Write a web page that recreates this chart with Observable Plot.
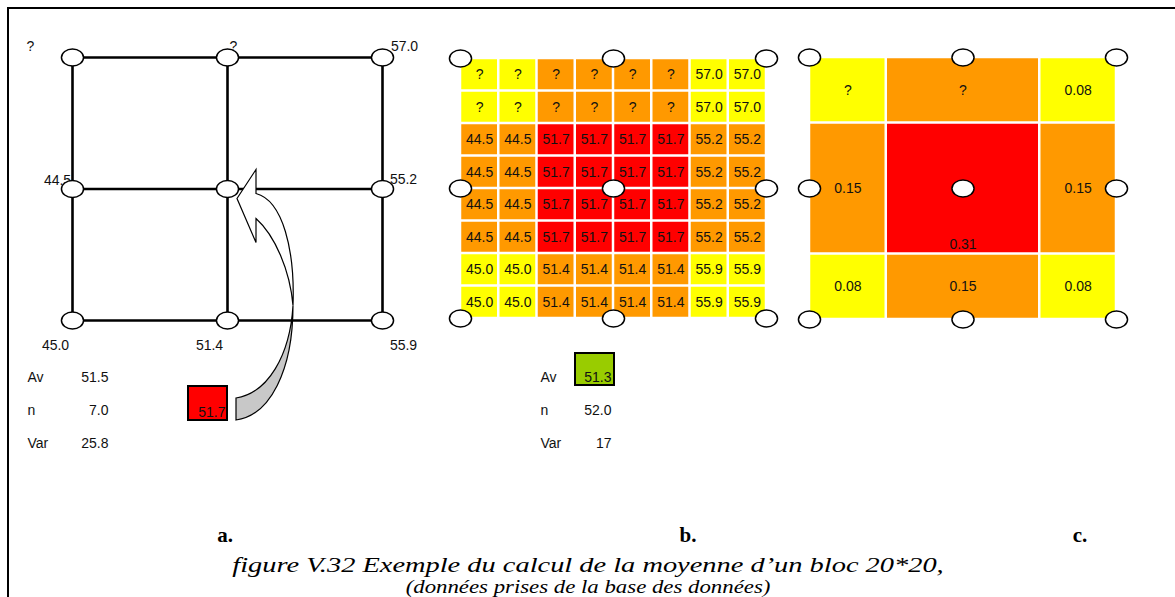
<!DOCTYPE html>
<html><head><meta charset="utf-8">
<script src="https://cdn.jsdelivr.net/npm/d3@7"></script>
<script src="https://cdn.jsdelivr.net/npm/@observablehq/plot@0.6"></script>
<style>
body{margin:0;background:#fff;}
#fig{position:relative;width:1175px;height:597px;overflow:hidden;background:#fff;font-family:"Liberation Sans",Arial,sans-serif;}
.frameTop{position:absolute;left:7px;top:7px;width:1168px;height:2px;background:#000;}
.frameLeft{position:absolute;left:7px;top:7px;width:2px;height:590px;background:#000;}
.panel{position:absolute;top:0;}
.lab{position:absolute;font-family:"Liberation Serif","Times New Roman",serif;font-weight:bold;font-size:21px;line-height:1;transform:translate(-50%,-50%);white-space:nowrap;}
.cap{position:absolute;left:588px;font-family:"Liberation Serif","Times New Roman",serif;font-style:italic;line-height:1;white-space:nowrap;}
</style></head><body>
<div id="fig">
  <div class="frameTop"></div><div class="frameLeft"></div>
  <div id="pa" class="panel" style="left:0px"></div>
  <div id="pb" class="panel" style="left:440px"></div>
  <div id="pc" class="panel" style="left:790px"></div>
  <div id="labs"></div>
</div>
<script>
// ---------------- data ----------------
const nodeLabelsA = ["?", "?", "57.0", "44.5", "", "55.2", "45.0", "51.4", "55.9"]; // 3x3 nodes, row-major
const statNames = ["Av", "n", "Var"];
const statsA = ["51.5", "7.0", "25.8"];
const statsB = ["51.3", "52.0", "17"];
const blockMeanA = "51.7";
const cellRowsB = [
  ["?", "?", "?", "?", "?", "?", "57.0", "57.0"],
  ["?", "?", "?", "?", "?", "?", "57.0", "57.0"],
  ["44.5", "44.5", "51.7", "51.7", "51.7", "51.7", "55.2", "55.2"],
  ["44.5", "44.5", "51.7", "51.7", "51.7", "51.7", "55.2", "55.2"],
  ["44.5", "44.5", "51.7", "51.7", "51.7", "51.7", "55.2", "55.2"],
  ["44.5", "44.5", "51.7", "51.7", "51.7", "51.7", "55.2", "55.2"],
  ["45.0", "45.0", "51.4", "51.4", "51.4", "51.4", "55.9", "55.9"],
  ["45.0", "45.0", "51.4", "51.4", "51.4", "51.4", "55.9", "55.9"]
];
const weightRowsC = [
  ["?", "?", "0.08"],
  ["0.15", "0.31", "0.15"],
  ["0.08", "0.15", "0.08"]
];
const zoneNames = ["corner", "edge", "center"];
const zoneColors = ["#FFFF00", "#FF9900", "#FF0000"];
const boxColors = ["#FF0000", "#99CC00"];
const panelLetters = ["a.", "b.", "c."];
const captionLines = ["figure V.32 Exemple du calcul de la moyenne d\u2019un bloc 20*20,", "(donn\u00e9es prises de la base des donn\u00e9es)"];

// ---------------- helpers ----------------
const ellipse = {draw(ctx, size) {
  const ry = Math.sqrt(size / Math.PI), rx = ry * 1.3, k = 0.5523;
  ctx.moveTo(rx, 0);
  ctx.bezierCurveTo(rx, k * ry, k * rx, ry, 0, ry);
  ctx.bezierCurveTo(-k * rx, ry, -rx, k * ry, -rx, 0);
  ctx.bezierCurveTo(-rx, -k * ry, -k * rx, -ry, 0, -ry);
  ctx.bezierCurveTo(k * rx, -ry, rx, -k * ry, rx, 0);
  ctx.closePath();
}};
const FONT = "Liberation Sans, Arial, sans-serif";
const nodeGrid = [0, 1, 2].flatMap(r => [0, 1, 2].map(c => ({r, c})));
const zoneOf = (outerR, outerC) => outerR && outerC ? "corner" : (outerR || outerC) ? "edge" : "center";
const colorScale = {type: "ordinal", domain: zoneNames, range: zoneColors};
const nodeDot = (data, x, y) => Plot.dot(data, {x, y, r: 8.5, symbol: ellipse, fill: "white", stroke: "black", strokeWidth: 1.5});

// ---------------- panel a ----------------
{
  const ux = 155, uy = 131.5, x0 = 72, y0 = 57;
  const ax = p => (p - x0) / ux, ay = p => (p - y0) / uy;
  const nodes = nodeLabelsA.map((t, i) => ({t, c: i % 3, r: Math.floor(i / 3)}));
  const labOff = [[-42, -11], [6, -11], [22, -11], [-15, -8], [0, 0], [21, -9], [-17, 25], [-18, 25], [21, 25]];
  const stats = statNames.map((s, i) => ({s, v: statsA[i], i}));
  const box = {x1: ax(188), x2: 1, y1: ay(386), y2: ay(420)};
  const arrow = (index, scales) => {
    const sx = scales.x, sy = scales.y;
    const P = [sx(1) + 10, sy(1) + 10];            // tip near centre node
    const T1 = [sx(box.x2) + 9, sy(box.y2)];       // tail bottom
    const T2 = [sx(box.x2) + 9, sy(box.y1) + 12];  // tail top
    const o = (dx, dy) => `${P[0] + dx},${P[1] + dy}`;
    const M = o(56, 107);
    const white = `M${o(0,0)} L${o(19,-29)} L${o(19,-5)} C${o(46,2)} ${o(58,52)} ${M} C${o(53,72)} ${o(38,37)} ${o(19,20)} L${o(19,44)} Z`;
    const gray = `M${M} C${o(56,172)} ${o(33,217)} ${T1[0]},${T1[1]} L${T2[0]},${T2[1]} C${T2[0]+32},${T2[1]-5} ${o(53,157)} ${M} Z`;
    const g = d3.create("svg:g");
    g.append("path").attr("d", gray).attr("fill", "#c8c8c8").attr("stroke", "black").attr("stroke-width", 1.2);
    g.append("path").attr("d", white).attr("fill", "white").attr("stroke", "black").attr("stroke-width", 1.2);
    return g.node();
  };
  const plot = Plot.plot({
    width: 440, height: 460, margin: 0,
    x: {domain: [0, 2], range: [x0, x0 + 2 * ux], axis: null},
    y: {domain: [0, 2], range: [y0, y0 + 2 * uy], axis: null},
    color: {type: "ordinal", domain: [0, 1], range: boxColors},
    style: {fontFamily: FONT, fontSize: "14px", background: "transparent", overflow: "visible"},
    marks: [
      Plot.ruleY([0, 1, 2], {y: d => d, x1: 0, x2: 2, stroke: "black", strokeWidth: 2.6}),
      Plot.ruleX([0, 1, 2], {x: d => d, y1: 0, y2: 2, stroke: "black", strokeWidth: 2.6}),
      Plot.text(nodes, {x: d => d.c + labOff[d.c + 3 * d.r][0] / ux, y: d => d.r + labOff[d.c + 3 * d.r][1] / uy, text: "t", fontSize: 14, fill: "#111"}),
      nodeDot(nodeGrid, "c", "r"),
      Plot.rect([box], {x1: "x1", x2: "x2", y1: "y1", y2: "y2", fill: () => 0, stroke: "black", strokeWidth: 2}),
      Plot.text([blockMeanA], {x: box.x2 - 2 / ux, y: ay(412), text: d => d, textAnchor: "end", fontSize: 14, fill: "#111"}),
      Plot.text(stats, {x: ax(27), y: d => ay(377 + 33 * d.i), text: "s", textAnchor: "start", fontSize: 14, fill: "#111"}),
      Plot.text(stats, {x: ax(108), y: d => ay(377 + 33 * d.i), text: "v", textAnchor: "end", fontSize: 14, fill: "#111"}),
      arrow
    ]
  });
  document.getElementById("pa").appendChild(plot);
}

// ---------------- panel b ----------------
{
  const x0 = 20, y0 = 58, ux = 38.25, uy = 32.5;
  const bx = p => (p - 440 - x0) / ux, by = p => (p - y0) / uy;
  const cells = cellRowsB.flatMap((row, r) => row.map((v, c) => ({r, c, v, zone: zoneOf(r < 2 || r > 5, c < 2 || c > 5)})));
  const stats = statNames.map((s, i) => ({s, v: statsB[i], i}));
  const plot = Plot.plot({
    width: 350, height: 460, margin: 0,
    x: {domain: [0, 8], range: [x0, x0 + 8 * ux], axis: null},
    y: {domain: [0, 8], range: [y0, y0 + 8 * uy], axis: null},
    color: {type: "ordinal", domain: [...zoneNames, "box"], range: [...zoneColors, boxColors[1]]},
    style: {fontFamily: FONT, fontSize: "14px", background: "transparent", overflow: "visible"},
    marks: [
      Plot.rect(cells, {x1: "c", x2: d => d.c + 1, y1: "r", y2: d => d.r + 1, fill: "zone", inset: 1.25}),
      Plot.text(cells, {x: d => d.c + 0.5, y: d => d.r + 0.5, text: "v", fontSize: 14, fill: "#111"}),
      nodeDot(nodeGrid, d => 4 * d.c, d => 4 * d.r),
      Plot.rect([0], {x1: bx(575), x2: bx(614), y1: by(353), y2: by(385), fill: () => "box", stroke: "black", strokeWidth: 2}),
      Plot.text(stats, {x: bx(540), y: d => by(377 + 33 * d.i), text: "s", textAnchor: "start", fontSize: 14, fill: "#111"}),
      Plot.text(stats, {x: bx(611), y: d => by(377 + 33 * d.i), text: "v", textAnchor: "end", fontSize: 14, fill: "#111"})
    ]
  });
  document.getElementById("pb").appendChild(plot);
}

// ---------------- panel c ----------------
{
  const x0 = 19, y0 = 57, ux = 76.75, uy = 65.5;
  const edges = [0, 1, 3, 4];
  const cells = weightRowsC.flatMap((row, r) => row.map((v, c) => ({
    r, c, v, zone: zoneOf(r !== 1, c !== 1),
    x1: edges[c], x2: edges[c + 1], y1: edges[r], y2: edges[r + 1]
  })));
  const plot = Plot.plot({
    width: 385, height: 460, margin: 0,
    x: {domain: [0, 4], range: [x0, x0 + 4 * ux], axis: null},
    y: {domain: [0, 4], range: [y0, y0 + 4 * uy], axis: null},
    color: colorScale,
    style: {fontFamily: FONT, fontSize: "14px", background: "transparent", overflow: "visible"},
    marks: [
      Plot.rect(cells, {x1: "x1", x2: "x2", y1: "y1", y2: "y2", fill: "zone", inset: 1.25}),
      Plot.text(cells.filter(d => d.zone !== "center"), {x: d => (d.x1 + d.x2) / 2, y: d => (d.y1 + d.y2) / 2, text: "v", fontSize: 14, fill: "#111"}),
      Plot.text(cells.filter(d => d.zone === "center"), {x: d => (d.x1 + d.x2) / 2, y: "y2", dy: -9, text: "v", fontSize: 14, fill: "#111"}),
      nodeDot(nodeGrid, d => 2 * d.c, d => 2 * d.r)
    ]
  });
  document.getElementById("pc").appendChild(plot);
}

// ---------------- letters & caption ----------------
{
  const labs = document.getElementById("labs");
  const lx = [225, 688, 1080];
  panelLetters.forEach((t, i) => {
    const d = document.createElement("div");
    d.className = "lab"; d.textContent = t;
    d.style.left = lx[i] + "px"; d.style.top = "535px";
    labs.appendChild(d);
  });
  const capStyle = [{size: 20, sx: 1.42, top: 565}, {size: 19, sx: 1.2, top: 586}];
  captionLines.forEach((t, i) => {
    const d = document.createElement("div");
    d.className = "cap"; d.textContent = t;
    d.style.fontSize = capStyle[i].size + "px";
    d.style.top = capStyle[i].top + "px";
    d.style.transform = `translate(-50%,-50%) scaleX(${capStyle[i].sx})`;
    labs.appendChild(d);
  });
}
</script>
</body></html>
